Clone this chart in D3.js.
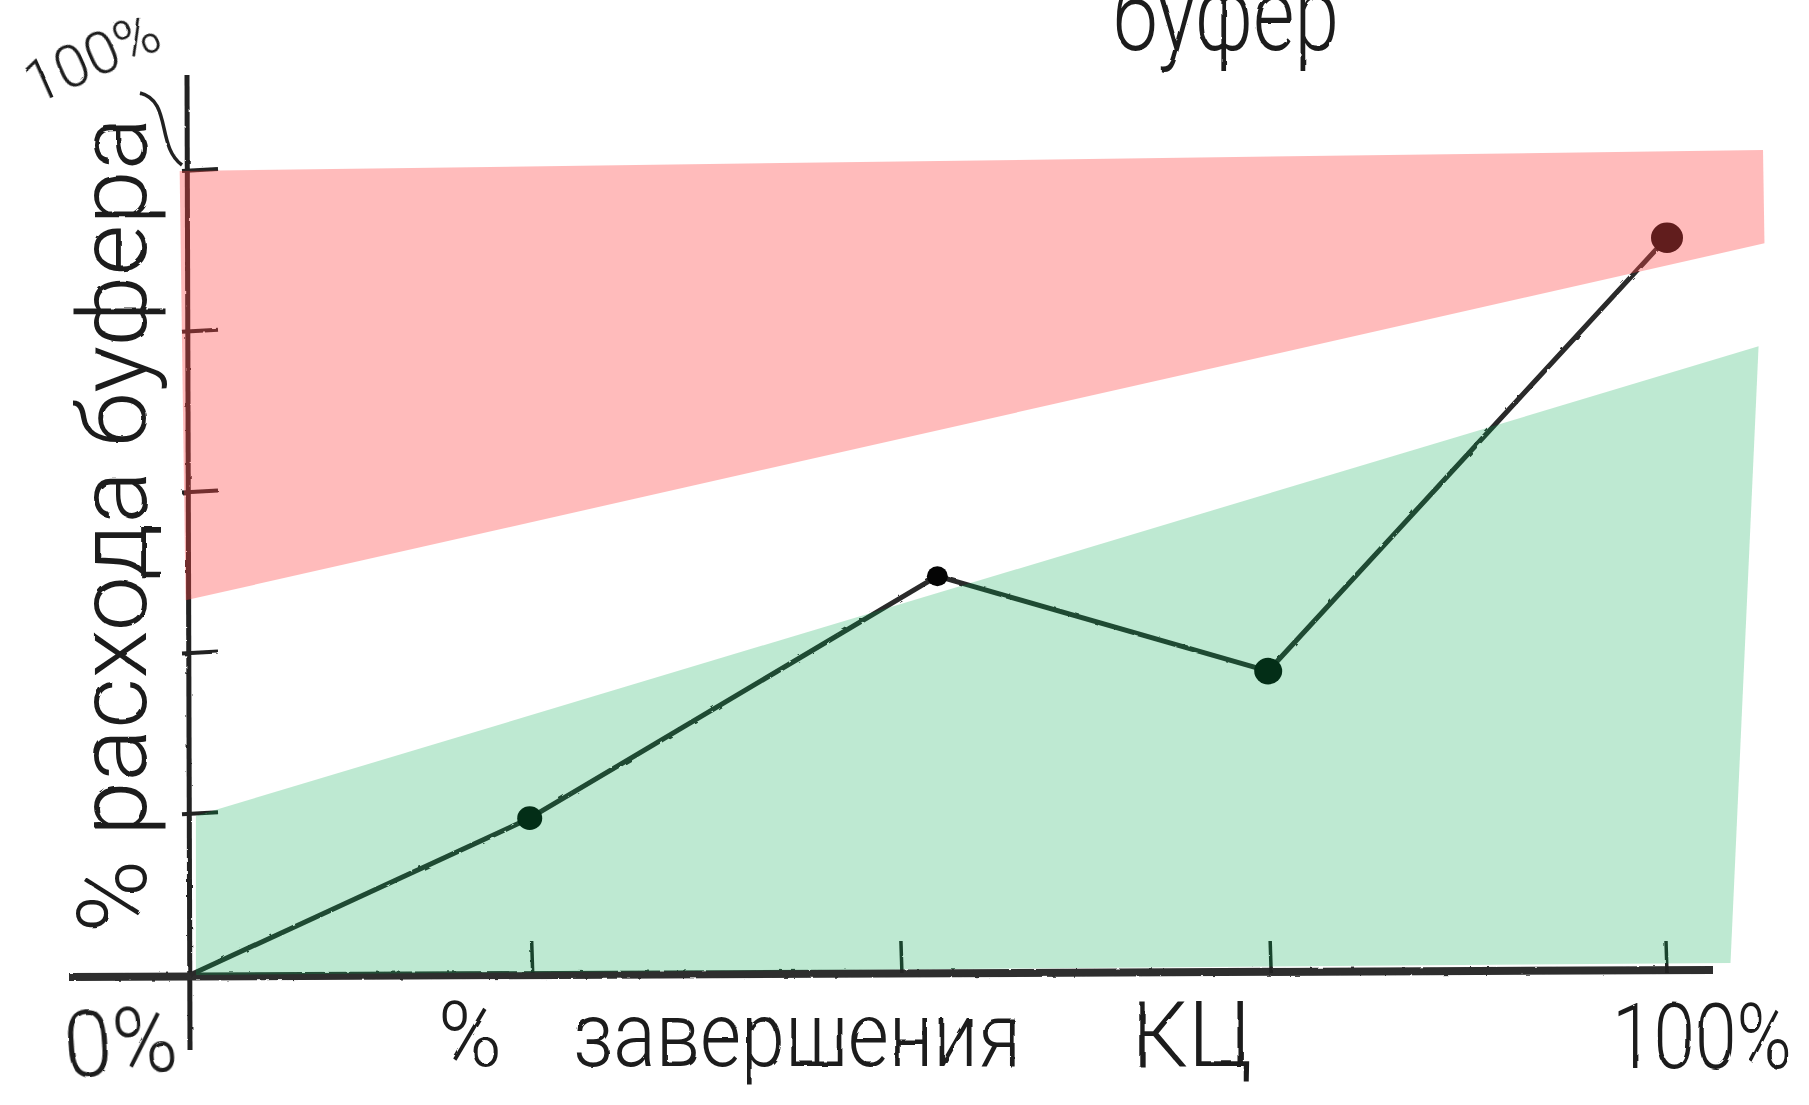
<!DOCTYPE html>
<html><head><meta charset="utf-8">
<script src="https://cdn.jsdelivr.net/npm/d3@7"></script>
<style>
html,body{margin:0;padding:0;background:#fff;overflow:hidden}
text{font-family:Roboto,"DejaVu Sans Condensed","DejaVu Sans",sans-serif;font-weight:300;fill:#1a1a1a}
</style></head>
<body><svg id="c" width="1809" height="1105"></svg>
<script>
// ---- data ----
const completion = [0, 23.0, 50.6, 73.0, 100.0];      // % завершения КЦ
const consumption = [0, 19.5, 49.6, 37.8, 91.7];      // % расхода буфера
const redZoneX = [-0.7, 106.5, 106.6, -0.3];
const redZoneY = [100, 102.6, 91.0, 46.6];
const greenZoneX = [0.4, 106.2, 104.3, 0.4];
const greenZoneY = [19.8, 78.2, 1.5, 0];
const xTicks = [23.2, 48.2, 73.2, 100];
const yTicks = [20, 40, 60, 80, 100];
const xTickLabels = ["0%", "100%"];
const yTopLabel = "100%";
const xTitle = ["%", "завершения", "КЦ"];
const yTitle = "% расхода буфера";
const topTitle = "буфер";

// ---- layout ----
const svg = d3.select("#c");
const x = d3.scaleLinear().domain([0, 100]).range([190, 1667]);
const y = d3.scaleLinear().domain([0, 100]).range([975, 171]);

const defs = svg.append("defs");
const f = defs.append("filter").attr("id", "rough").attr("x", "-5%").attr("y", "-5%").attr("width", "110%").attr("height", "110%");
f.append("feTurbulence").attr("type", "fractalNoise").attr("baseFrequency", 0.12).attr("numOctaves", 2).attr("seed", 3).attr("result", "n");
f.append("feDisplacementMap").attr("in", "SourceGraphic").attr("in2", "n").attr("scale", 2.2);
const ft = defs.append("filter").attr("id", "roughText").attr("x", "-5%").attr("y", "-5%").attr("width", "110%").attr("height", "110%");
ft.append("feTurbulence").attr("type", "fractalNoise").attr("baseFrequency", 0.06).attr("numOctaves", 2).attr("seed", 7).attr("result", "n");
ft.append("feDisplacementMap").attr("in", "SourceGraphic").attr("in2", "n").attr("scale", 2.5);

const ink = "#222";
const gAx = svg.append("g").attr("filter", "url(#rough)");

// y axis
gAx.append("line").attr("x1", x(0) - 3).attr("y1", 75).attr("x2", x(0)).attr("y2", 1050)
  .attr("stroke", ink).attr("stroke-width", 5);
gAx.selectAll(".yt").data(yTicks).join("line")
  .attr("x1", x(0) - 8).attr("x2", x(0) + 28).attr("y1", d => y(d)).attr("y2", d => y(d) - 2)
  .attr("stroke", ink).attr("stroke-width", 4);
// x axis
gAx.append("line").attr("x1", 69).attr("y1", y(0) + 2).attr("x2", 1713).attr("y2", y(0) - 5)
  .attr("stroke", "#2e2e2e").attr("stroke-width", 8);
gAx.selectAll(".xt").data(xTicks).join("line")
  .attr("x1", d => x(d)).attr("x2", d => x(d) - 1).attr("y1", y(0) - 2).attr("y2", y(0) - 34)
  .attr("stroke", ink).attr("stroke-width", 3.5);

// connector curl from "100%" to top tick
gAx.append("path")
  .attr("d", `M ${x(0) - 50} ${y(100) - 78} C ${x(0) - 18} ${y(100) - 70}, ${x(0) - 34} ${y(100) - 25}, ${x(0) - 8} ${y(100) - 6}`)
  .attr("fill", "none").attr("stroke", ink).attr("stroke-width", 3.5);

// line + points
const pts = completion.map((c, i) => [c, consumption[i]]);
svg.append("path").datum(pts)
  .attr("d", d3.line().x(d => x(d[0])).y(d => y(d[1])))
  .attr("fill", "none").attr("stroke", "#2a2a2a").attr("stroke-width", 5)
  .attr("stroke-linejoin", "round").attr("filter", "url(#rough)");
const radii = [0, 12.5, 10.5, 14, 16];
svg.selectAll(".pt").data(pts).join("ellipse")
  .attr("cx", d => x(d[0])).attr("cy", d => y(d[1]))
  .attr("rx", (d, i) => radii[i]).attr("ry", (d, i) => radii[i] * 0.95)
  .attr("fill", "#050505");

// zones (translucent, drawn over the ink)
const zone = (xs, ys) => xs.map((v, i) => [x(v), y(ys[i])]);
svg.append("polygon").attr("points", zone(redZoneX, redZoneY).map(p => p.join(",")).join(" "))
  .attr("fill", "rgb(255,70,70)").attr("fill-opacity", 0.37);
svg.append("polygon").attr("points", zone(greenZoneX, greenZoneY).map(p => p.join(",")).join(" "))
  .attr("fill", "rgb(0,170,80)").attr("fill-opacity", 0.255);

// texts
const gt = svg.append("g").attr("filter", "url(#roughText)");
gt.append("text").attr("transform", `translate(146,525) rotate(-90)`)
  .attr("text-anchor", "middle").attr("font-size", 96)
  .attr("textLength", 815).attr("lengthAdjust", "spacingAndGlyphs").text(yTitle);

const xt = [[438, 64], [573, 448], [1131, 121]];
xTitle.forEach((t, i) => {
  gt.append("text").attr("x", xt[i][0]).attr("y", 1066).attr("font-size", 90)
    .attr("textLength", xt[i][1]).attr("lengthAdjust", "spacingAndGlyphs").text(t);
});
gt.append("text").attr("x", 64).attr("y", 1074).attr("font-size", 92)
  .attr("textLength", 114).attr("lengthAdjust", "spacingAndGlyphs")
  .attr("transform", "rotate(-4,120,1050)").text(xTickLabels[0]);
gt.append("text").attr("x", 1612).attr("y", 1068).attr("font-size", 90)
  .attr("textLength", 180).attr("lengthAdjust", "spacingAndGlyphs").text(xTickLabels[1]);
gt.append("text").attr("transform", "translate(100,76) rotate(-24)")
  .attr("text-anchor", "middle").attr("font-size", 60)
  .attr("textLength", 142).attr("lengthAdjust", "spacingAndGlyphs").text(yTopLabel);
gt.append("text").attr("x", 1113).attr("y", 50).attr("font-size", 104)
  .attr("textLength", 226).attr("lengthAdjust", "spacingAndGlyphs").text(topTitle);
</script></body></html>
